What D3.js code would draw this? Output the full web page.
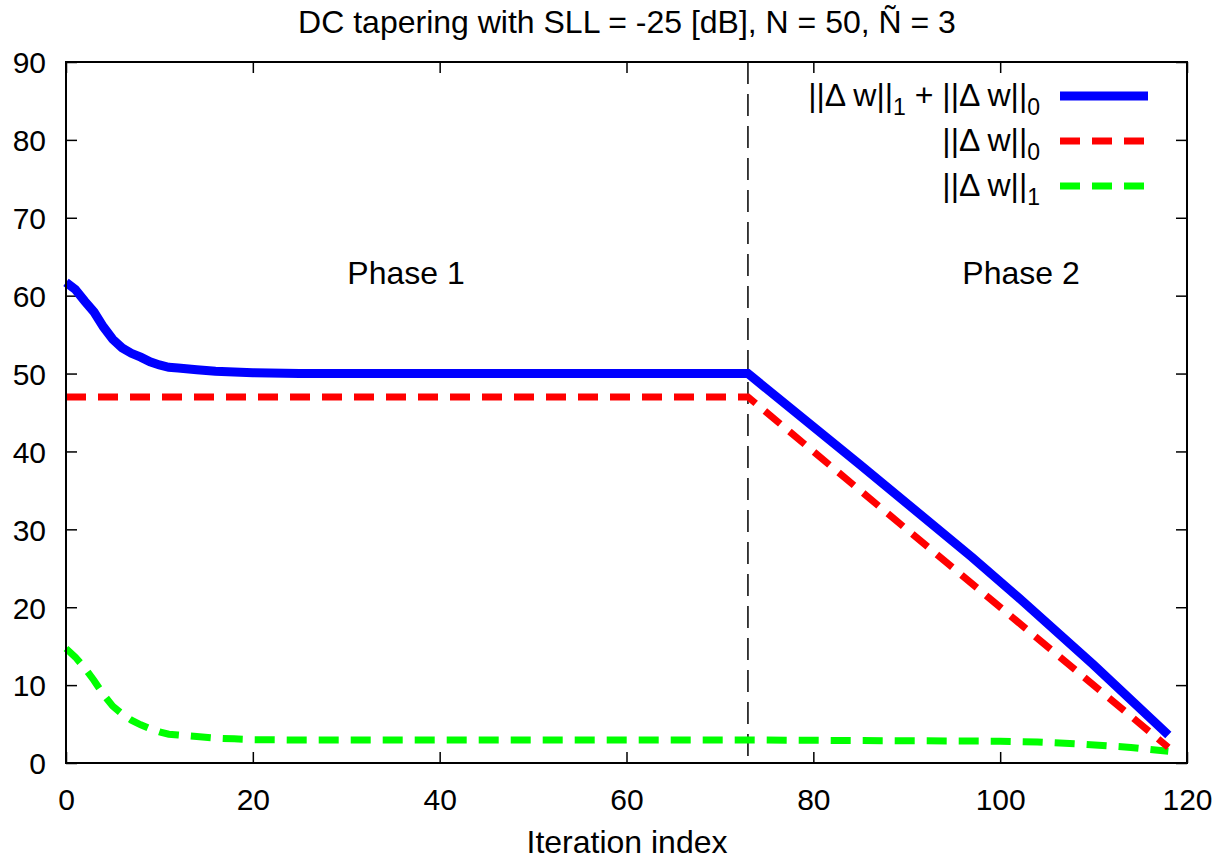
<!DOCTYPE html>
<html>
<head>
<meta charset="utf-8">
<script src="https://cdn.jsdelivr.net/npm/d3@7"></script>
<style>
  body { margin: 0; background: #fff; }
  svg { font-family: "Liberation Sans", Arial, sans-serif; }
</style>
</head>
<body>
<div id="chart"></div>
<script>
// iteration index (keypoints)
var sumIter = [0, 1, 2, 3, 4, 5, 6, 7, 8, 9, 10, 11, 12, 14, 16, 18, 20, 25, 73, 85, 97, 102, 110, 118];
var sumVals = [61.7, 60.8, 59.3, 57.9, 56.0, 54.4, 53.3, 52.6, 52.1, 51.5, 51.1, 50.8, 50.7, 50.5, 50.3, 50.2, 50.1, 50.0, 50.0, 38.3, 26.4, 21.2, 12.6, 3.6];

var l0Iter = [0, 73, 118];
var l0Vals = [47, 47, 2];

var l1Iter = [0, 1, 2, 3, 4, 5, 6, 7, 8, 9, 10, 11, 12, 14, 16, 18, 20, 25, 73, 100, 104, 109, 114, 118];
var l1Vals = [14.7, 13.6, 12.2, 10.6, 8.8, 7.3, 6.3, 5.5, 4.9, 4.4, 4.0, 3.7, 3.6, 3.4, 3.2, 3.1, 3.0, 2.95, 2.95, 2.8, 2.7, 2.4, 2.0, 1.5];

var phaseSplit = 73;
var xTicks = [0, 20, 40, 60, 80, 100, 120];
var yTicks = [0, 10, 20, 30, 40, 50, 60, 70, 80, 90];

var W = 1231, H = 861;
var mLeft = 66, mRight = 1187, mTop = 62, mBottom = 763;

var svg = d3.select('#chart').append('svg')
    .attr('width', W)
    .attr('height', H);

var x = d3.scaleLinear().domain([0, 120]).range([mLeft, mRight]);
var y = d3.scaleLinear().domain([0, 90]).range([mBottom, mTop]);

function pts(xs, ys) {
    return xs.map(function(d, i) { return [d, ys[i]]; });
}

var line = d3.line()
    .x(function(d) { return x(d[0]); })
    .y(function(d) { return y(d[1]); });

var fs = 32, tfs = 30;

// axes (ticks inward, mirrored on top/right)
svg.append('g')
    .attr('transform', 'translate(0,' + mBottom + ')')
    .call(d3.axisBottom(x).tickValues(xTicks).tickSizeInner(-11).tickSizeOuter(0).tickPadding(0))
    .call(function(g) {
        g.select('.domain').remove();
        g.selectAll('line').attr('stroke', '#000').attr('stroke-width', 1.5);
        g.selectAll('text').attr('y', 47).attr('dy', null).attr('font-size', tfs).attr('fill', '#000');
    });
svg.append('g')
    .attr('transform', 'translate(0,' + mTop + ')')
    .call(d3.axisTop(x).tickValues(xTicks).tickSizeInner(-11).tickSizeOuter(0).tickFormat(''))
    .call(function(g) {
        g.select('.domain').remove();
        g.selectAll('line').attr('stroke', '#000').attr('stroke-width', 1.5);
    });
svg.append('g')
    .attr('transform', 'translate(' + mLeft + ',0)')
    .call(d3.axisLeft(y).tickValues(yTicks).tickSizeInner(-11).tickSizeOuter(0).tickPadding(0))
    .call(function(g) {
        g.select('.domain').remove();
        g.selectAll('line').attr('stroke', '#000').attr('stroke-width', 1.5);
        g.selectAll('text').attr('x', -20).attr('dy', '0.36em').attr('font-size', tfs).attr('fill', '#000');
    });
svg.append('g')
    .attr('transform', 'translate(' + mRight + ',0)')
    .call(d3.axisRight(y).tickValues(yTicks).tickSizeInner(-11).tickSizeOuter(0).tickFormat(''))
    .call(function(g) {
        g.select('.domain').remove();
        g.selectAll('line').attr('stroke', '#000').attr('stroke-width', 1.5);
    });

// phase separator
svg.append('line')
    .attr('x1', x(phaseSplit)).attr('x2', x(phaseSplit))
    .attr('y1', y(90)).attr('y2', y(0))
    .attr('stroke', '#000')
    .attr('stroke-width', 1.5)
    .attr('stroke-dasharray', '22,10');

// series
svg.append('path')
    .attr('d', line(pts(l1Iter, l1Vals)))
    .attr('fill', 'none').attr('stroke', '#00ff00')
    .attr('stroke-width', 7).attr('stroke-dasharray', '20,12');
svg.append('path')
    .attr('d', line(pts(l0Iter, l0Vals)))
    .attr('fill', 'none').attr('stroke', '#ff0000')
    .attr('stroke-width', 7).attr('stroke-dasharray', '20,12');
svg.append('path')
    .attr('d', line(pts(sumIter, sumVals)))
    .attr('fill', 'none').attr('stroke', '#0000ff')
    .attr('stroke-width', 9).attr('stroke-linejoin', 'miter');

// frame
svg.append('rect')
    .attr('x', mLeft).attr('y', mTop)
    .attr('width', mRight - mLeft).attr('height', mBottom - mTop)
    .attr('fill', 'none').attr('stroke', '#000').attr('stroke-width', 2);

// phase labels
svg.append('text').attr('x', 406).attr('y', 284).attr('text-anchor', 'middle')
    .attr('font-size', fs).text('Phase 1');
svg.append('text').attr('x', 1021).attr('y', 284).attr('text-anchor', 'middle')
    .attr('font-size', fs).text('Phase 2');

// title and x label
svg.append('text').attr('x', 627).attr('y', 33).attr('text-anchor', 'middle')
    .attr('font-size', fs).text('DC tapering with SLL = -25 [dB], N = 50, \u00d1 = 3');
svg.append('text').attr('x', 627).attr('y', 853).attr('text-anchor', 'middle')
    .attr('font-size', fs).text('Iteration index');

// legend
var legend = [
    {parts: [['||\u0394 w||', 0], ['1', 1], [' + ||\u0394 w||', 0], ['0', 1]], color: '#0000ff', width: 9, dash: null},
    {parts: [['||\u0394 w||', 0], ['0', 1]], color: '#ff0000', width: 7, dash: '20,12'},
    {parts: [['||\u0394 w||', 0], ['1', 1]], color: '#00ff00', width: 7, dash: '20,12'}
];
legend.forEach(function(d, i) {
    var cy = 96 + i * 45;
    var t = svg.append('text').attr('x', 1040).attr('y', cy + 10)
        .attr('text-anchor', 'end').attr('font-size', fs);
    d.parts.forEach(function(p, j) {
        var ts = t.append('tspan').text(p[0]);
        if (p[1]) {
            ts.attr('font-size', 23).attr('dy', 9);
        } else if (j > 0) {
            ts.attr('dy', -9);
        }
    });
    svg.append('line')
        .attr('x1', 1060).attr('x2', 1148)
        .attr('y1', cy).attr('y2', cy)
        .attr('stroke', d.color).attr('stroke-width', d.width)
        .attr('stroke-dasharray', d.dash);
});
</script>
</body>
</html>
